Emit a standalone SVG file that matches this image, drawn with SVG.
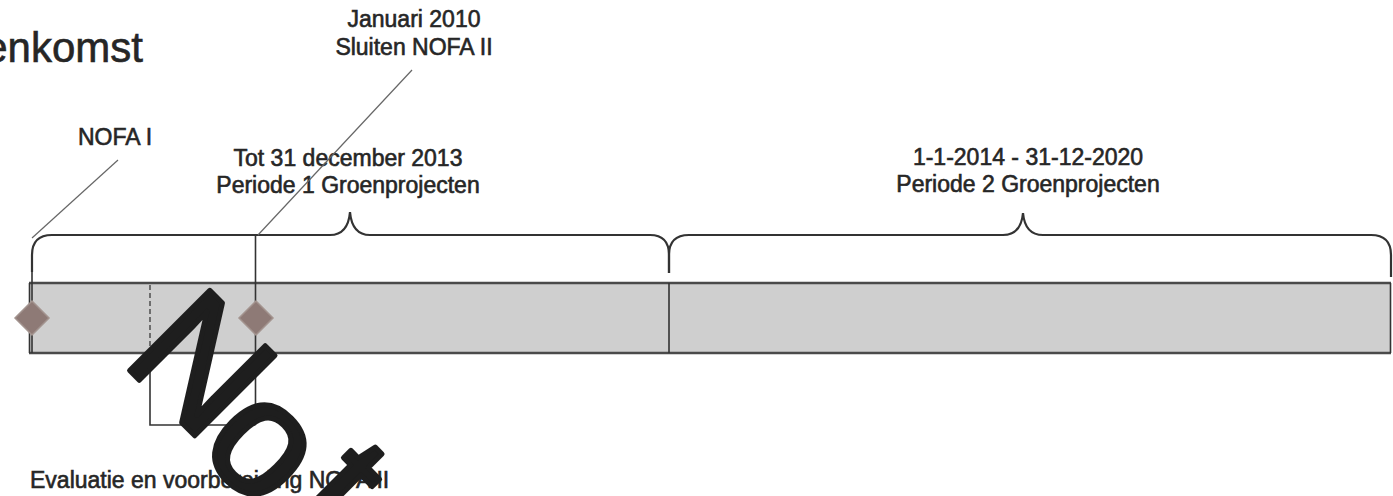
<svg xmlns="http://www.w3.org/2000/svg" width="1393" height="496" viewBox="0 0 1393 496">
<defs>
<style>
.lbl{font-family:"Liberation Sans",Arial,sans-serif;font-size:23px;fill:#262626;stroke:#262626;stroke-width:0.6;text-anchor:middle}
.brace{fill:none;stroke:#333;stroke-width:2.2}
.bar{fill:#cfcfcf;stroke:none}
.edge{stroke:#4a4a4a;stroke-width:2.4}
.lead{stroke:#666;stroke-width:1.2;fill:none}
.ms{fill:#8e7a76;stroke:#a3948f;stroke-width:1.5}
.vl{stroke:#333;stroke-width:1.6;fill:none}
</style>
</defs>
<rect width="1393" height="496" fill="#fff"/>
<g id="title"><text x="143" y="62" font-family="'Liberation Sans',Arial,sans-serif" font-size="42" fill="#262626" stroke="#262626" stroke-width="0.6" text-anchor="end">enkomst</text></g>
<g id="timeline">
<rect class="bar" x="29" y="283" width="1362" height="70"/>
<line class="edge" x1="29" y1="283" x2="1391" y2="283"/>
<line class="edge" x1="29" y1="353" x2="1391" y2="353"/>
<line class="vl" x1="29.5" y1="283" x2="29.5" y2="353"/>
<line class="vl" x1="1390.5" y1="283" x2="1390.5" y2="353"/>
<line class="vl" x1="669" y1="283" x2="669" y2="353"/>
<line x1="150" y1="285" x2="150" y2="353" stroke="#555" stroke-width="1.6" stroke-dasharray="5 3"/>
</g>
<g id="periode1">
<path class="brace" d="M32 272 L32 255 Q32 235 52 235 L330 235 Q348 235 350 212 Q352 235 370 235 L650 235 Q669 235 669 255 L669 273"/>
<text class="lbl" x="348" y="166">Tot 31 december 2013</text>
<text class="lbl" x="348" y="193">Periode 1 Groenprojecten</text>
</g>
<g id="periode2">
<path class="brace" d="M669 273 L669 255 Q669 235 689 235 L1003 235 Q1021 235 1023 213 Q1025 235 1043 235 L1371 235 Q1391 235 1391 255 L1391 277"/>
<text class="lbl" x="1028" y="165">1-1-2014 - 31-12-2020</text>
<text class="lbl" x="1028" y="192">Periode 2 Groenprojecten</text>
</g>
<g id="nofa1">
<text class="lbl" x="115" y="145">NOFA I</text>
<line class="vl" x1="32" y1="272" x2="32" y2="353"/>
<path class="ms" d="M32 301 L49 318 L32 335 L15 318 Z"/>
</g>
<g id="nofa2">
<text class="lbl" x="414" y="27">Januari 2010</text>
<text class="lbl" x="414" y="55">Sluiten NOFA II</text>
<line class="vl" x1="255.5" y1="235" x2="255.5" y2="425"/>
<path class="ms" d="M256 301 L273 318 L256 335 L239 318 Z"/>
</g>
<g id="evaluatie">
<polyline class="vl" points="150,353 150,425 255.5,425"/>
<text x="30" y="488" font-family="'Liberation Sans',Arial,sans-serif" font-size="23" fill="#262626" stroke="#262626" stroke-width="0.6">Evaluatie en voorbereiding NOFA II</text>
</g>
<g id="connectors">
<line class="lead" x1="118" y1="160" x2="32" y2="238"/>
<line class="lead" x1="412" y1="70" x2="258" y2="235"/>
</g>
<g id="watermark">
<text transform="translate(120,361) rotate(45)" font-family="'Liberation Sans',Arial,sans-serif" font-size="165" fill="#1e1e1e" stroke="#1e1e1e" stroke-width="5" stroke-linejoin="round">N<tspan dx="-4" dy="8">o</tspan><tspan dx="17" dy="-21">t</tspan></text>
</g>
</svg>
